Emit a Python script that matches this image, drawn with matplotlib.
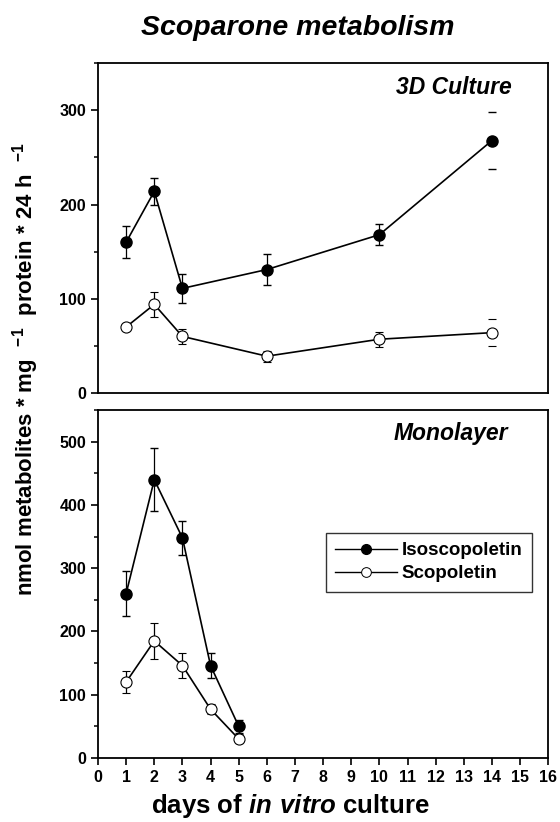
import matplotlib
matplotlib.use("Agg")
import matplotlib.pyplot as plt
from matplotlib.ticker import MultipleLocator
from matplotlib.lines import Line2D

plt.rcParams['font.family'] = ['Liberation Sans', 'DejaVu Sans']
plt.rcParams['mathtext.fontset'] = 'custom'
plt.rcParams['mathtext.rm'] = 'Liberation Sans:bold'
plt.rcParams['mathtext.bf'] = 'Liberation Sans:bold'
plt.rcParams['mathtext.bfit'] = 'Liberation Sans:italic:bold'

# 3D culture
days_3d = [1, 2, 3, 6, 10, 14]
iso_3d = [160, 214, 111, 131, 168, 268]
iso_3d_err = [17, 14, 15, 16, 11, 30]
scop_3d = [70, 94, 60, 39, 57, 64]
scop_3d_err = [3, 13, 8, 6, 8, 14]

# Monolayer
days_mono = [1, 2, 3, 4, 5]
iso_mono = [260, 440, 348, 146, 50]
iso_mono_err = [35, 50, 27, 20, 10]
scop_mono = [120, 185, 146, 77, 30]
scop_mono_err = [17, 28, 20, 8, 7]

fig = plt.figure(figsize=(5.6, 8.22), dpi=100)
ax1 = fig.add_axes([0.175, 0.522, 0.804, 0.401])
ax2 = fig.add_axes([0.175, 0.078, 0.804, 0.423])


def draw(ax, x, iso, iso_err, scop, scop_err):
    e1 = ax.errorbar(x, iso, yerr=iso_err, fmt='-o', color='black', mfc='black',
                     mec='black', ms=8, lw=1.2, elinewidth=0.9, capsize=3)
    e2 = ax.errorbar(x, scop, yerr=scop_err, fmt='-o', color='black', mfc='white',
                     mec='black', ms=8, lw=1.2, elinewidth=0.9, capsize=3, mew=0.8)
    for s in ax.spines.values():
        s.set_linewidth(1.3)
    ax.set_xlim(0, 16)
    ax.yaxis.set_major_locator(MultipleLocator(100))
    ax.yaxis.set_minor_locator(MultipleLocator(50))
    ax.tick_params(direction='out', width=1.2, length=5, labelsize=11.5)
    ax.tick_params(axis='y', which='minor', length=3, width=1.1)
    return e1, e2


e1, e2 = draw(ax1, days_3d, iso_3d, iso_3d_err, scop_3d, scop_3d_err)
# day 14: only the caps show in the original
for e in (e1, e2):
    e[2][0].set_linewidths([0.9] * (len(days_3d) - 1) + [0])
ax1.set_ylim(0, 350)
ax1.set_xticks([])
for lab in ax1.get_yticklabels():
    lab.set_fontweight('bold')
ax1.text(0.92, 0.927, '3D Culture', transform=ax1.transAxes, ha='right',
         va='center', fontsize=16.5, fontweight='bold', style='italic')

draw(ax2, days_mono, iso_mono, iso_mono_err, scop_mono, scop_mono_err)
ax2.set_ylim(0, 550)
ax2.set_xticks(range(0, 17))
for lab in ax2.get_yticklabels() + ax2.get_xticklabels():
    lab.set_fontweight('bold')
ax2.text(0.911, 0.934, 'Monolayer', transform=ax2.transAxes, ha='right',
         va='center', fontsize=16.5, fontweight='bold', style='italic')

handles = [
    Line2D([], [], color='black', marker='o', mfc='black', mec='black', ms=7, lw=1.0),
    Line2D([], [], color='black', marker='o', mfc='white', mec='black', ms=7, lw=1.0, mew=0.7),
]
leg = ax2.legend(handles, ['Isoscopoletin', 'Scopoletin'], loc='upper right',
                 bbox_to_anchor=(0.964, 0.647), frameon=True, fancybox=False,
                 edgecolor='black', prop={'weight': 'bold', 'size': 13.5},
                 handlelength=3.3, handletextpad=0.25, borderpad=0.5,
                 labelspacing=0.3, borderaxespad=0)
leg.get_frame().set_linewidth(1.0)

fig.text(0.518, 0.011, 'days of $\\mathbfit{in\\ vitro}$ culture', ha='center',
         va='baseline', fontsize=18.5, fontweight='bold')

fig.text(0.045, 0.551, 'nmol metabolites * mg  $^{-1}$  protein * 24 h  $^{-1}$',
         rotation=90, ha='center', va='center', fontsize=16, fontweight='bold')
fig.text(0.532, 0.966, 'Scoparone metabolism', ha='center', va='center',
         fontsize=20.5, fontweight='bold', style='italic')

fig.savefig('out.png', dpi=100)
